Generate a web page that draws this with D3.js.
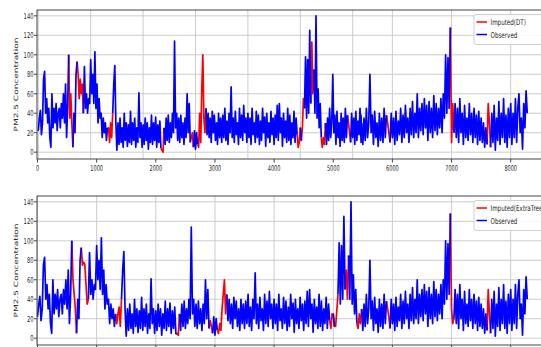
<!DOCTYPE html>
<html><head><meta charset="utf-8">
<script src="https://cdn.jsdelivr.net/npm/d3@7"></script>
<style>
body{margin:0;background:#fff;overflow:hidden}
svg{display:block}
text{font-family:"DejaVu Sans",sans-serif;fill:#262626}
</style></head><body>
<script>
// sampling step of the hourly index (units on the x axis)
const STEP = 20;
// observed PM2.5 values (null = missing), one value every STEP units, 0 .. 8280
const observed = [
 22,35,43,18,30,75,83,40,55,30,45,15,5,60,25,45,30,50,22,40,45,25,50,35,60,
 30,70,15,45,100,null,null,null,5,40,20,80,93,null,null,null,null,null,40,88,45,60,40,55,50,
 95,60,80,50,103,45,70,30,55,35,40,15,35,20,30,12,25,null,null,null,null,40,70,89,30,
 2,30,8,35,10,25,5,40,12,30,6,28,10,42,8,30,12,35,5,25,10,61,15,30,5,
 28,8,35,12,30,3,25,10,38,8,30,12,36,5,28,10,32,4,null,null,25,8,35,12,38,
 10,30,15,40,20,114,25,40,12,35,10,38,15,30,8,35,15,60,20,50,10,null,null,5,22,
 3,20,8,null,null,null,null,null,null,null,45,18,40,15,35,10,42,20,38,12,30,8,40,15,35,
 10,38,15,45,12,32,8,40,20,67,15,35,10,42,18,30,8,45,15,38,12,48,20,35,10,
 40,15,35,8,45,18,30,10,42,15,38,8,32,12,45,20,36,6,40,15,30,10,42,18,35,
 8,38,15,48,12,50,20,35,6,40,15,32,10,45,12,38,8,30,15,42,10,35,18,null,null,
 25,12,null,null,45,98,35,95,40,125,50,null,null,85,40,140,35,65,25,50,15,null,null,null,30,
 8,35,12,45,15,30,80,20,38,8,42,15,30,6,40,12,35,10,45,15,38,null,null,10,40,
 15,35,8,42,12,32,18,45,10,38,15,48,20,35,10,45,18,52,15,40,20,60,15,45,22,
 50,18,55,25,48,12,52,20,45,15,58,22,50,18,45,25,55,20,60,35,100,40,97,45,128,
 null,null,20,50,15,45,10,55,20,40,8,48,15,35,12,50,18,40,10,45,15,38,8,42,12,
 35,10,30,5,25,8,null,null,5,40,10,48,2,35,12,52,8,40,15,55,10,38,5,45,15,
 50,8,40,15,55,10,45,60,20,35,3,50,25,63,40
];
// index (in STEP units) where each missing run begins
const gapStart = [30,38,67,118,146,153,248,252,261,271,296,350,381];
// imputed values for each missing run
const imputedDT = [[35,60,30],[80,55,75,60,70],[25,10,30,15],[2,0],[15,20],[5,40,10,65,100,35,20],[5,10],[25,55],[113,60],[5,15,8],[30,20],[10,50],[50,30]];
const imputedET = [[60,45,30],[75,78,76,55,35],[15,25,32,12],[5,3],[18,12],[5,15,8,30,45,60,25],[10,25],[12,28],[70,40],[10,25,15],[30,22],[30,15],[50,25]];
const yTicks = [0,20,40,60,80,100,120,140];
const xTicks = [0,1000,2000,3000,4000,5000,6000,7000,8000];
const legendNames = ["Imputed(DT)","Imputed(ExtraTrees)"];
const seriesNames = ["Observed"];
const yTitle = "PM2.5 Concentration";

function fillSeries(imp){
  const s = observed.slice();
  gapStart.forEach((g,i)=>imp[i].forEach((v,j)=>{ s[g+j]=v; }));
  return s;
}
function nearGap(i){
  return observed[i]==null || observed[i-1]===null || observed[i+1]===null;
}

const W=541,H=347;
const svg=d3.select("body").append("svg").attr("width",W).attr("height",H);
const defs=svg.append("defs");
const plotL=37, plotR=575;
const xNormal=d3.scaleLinear().domain([0,8000]).range([37.5,510.7]);
const xCompressed=d3.scaleLinear().domain([0,6000]).range([38.3,352.7]);
const splice=362;

const panels=[
 {top:10,bottom:159,imp:imputedDT,name:legendNames[0],xLabels:true,
  pieces:[{x:xCompressed,x0:plotL,x1:splice},{x:xNormal,x0:splice,x1:plotR}]},
 {top:196,bottom:345,imp:imputedET,name:legendNames[1],xLabels:false,
  pieces:[{x:xNormal,x0:plotL,x1:plotR}]}
];

panels.forEach((p,k)=>{
  const y=d3.scaleLinear().domain([-7,146]).range([p.bottom,p.top]);
  const g=svg.append("g");
  yTicks.forEach(t=>g.append("line").attr("x1",plotL).attr("x2",plotR)
    .attr("y1",y(t)).attr("y2",y(t)).attr("stroke","#c6c6c6").attr("stroke-width",0.9));
  const full=fillSeries(p.imp);
  p.pieces.forEach((pc,j)=>{
    const id=`clip${k}_${j}`;
    defs.append("clipPath").attr("id",id).append("rect")
      .attr("x",pc.x0).attr("y",p.top).attr("width",pc.x1-pc.x0).attr("height",p.bottom-p.top);
    const pg=g.append("g").attr("clip-path",`url(#${id})`);
    xTicks.forEach(t=>pg.append("line").attr("x1",pc.x(t)).attr("x2",pc.x(t))
      .attr("y1",p.top).attr("y2",p.bottom).attr("stroke","#c6c6c6").attr("stroke-width",0.9));
    const redLine=d3.line().defined((d,i)=>d!=null && nearGap(i)).x((d,i)=>pc.x(i*STEP)).y(d=>y(d));
    const blueLine=d3.line().defined(d=>d!=null).x((d,i)=>pc.x(i*STEP)).y(d=>y(d));
    pg.append("path").datum(full).attr("d",redLine).attr("fill","none")
      .attr("stroke","#ff0000").attr("stroke-width",1.7).attr("stroke-linejoin","round");
    pg.append("path").datum(observed).attr("d",blueLine).attr("fill","none")
      .attr("stroke","#0000ff").attr("stroke-width",1.7).attr("stroke-linejoin","round");
  });
  g.append("rect").attr("x",plotL).attr("y",p.top).attr("width",plotR-plotL).attr("height",p.bottom-p.top)
    .attr("fill","none").attr("stroke","#444").attr("stroke-width",1);
  yTicks.forEach(t=>{
    g.append("line").attr("x1",plotL-3).attr("x2",plotL).attr("y1",y(t)).attr("y2",y(t)).attr("stroke","#444");
    g.append("text").attr("transform",`translate(33.5,${y(t)+2.9}) scale(0.65,1)`)
      .attr("text-anchor","end").attr("font-size",8).text(t);
  });
  xTicks.forEach(t=>{
    g.append("line").attr("x1",xNormal(t)).attr("x2",xNormal(t)).attr("y1",p.bottom).attr("y2",p.bottom+3.5).attr("stroke","#444");
    if(p.xLabels) g.append("text").attr("transform",`translate(${xNormal(t)},${p.bottom+12}) scale(0.62,1)`)
      .attr("text-anchor","middle").attr("font-size",8).text(t);
  });
  g.append("text").attr("transform",`translate(16.5,${(p.top+p.bottom)/2}) scale(0.65,1) rotate(-90)`)
    .attr("text-anchor","middle").attr("dominant-baseline","central").attr("font-size",9).text(yTitle);
  const lg=g.append("g");
  lg.append("rect").attr("x",474).attr("y",p.top+4.5).attr("width",110).attr("height",30).attr("rx",2)
    .attr("fill","#fff").attr("fill-opacity",0.85).attr("stroke","#d0d0d0");
  [[p.name,"#ff0000",12],[seriesNames[0],"#0000ff",24.5]].forEach(([nm,c,dy])=>{
    lg.append("line").attr("x1",476.5).attr("x2",487).attr("y1",p.top+dy).attr("y2",p.top+dy)
      .attr("stroke",c).attr("stroke-width",1.5);
    lg.append("text").attr("transform",`translate(490.5,${p.top+dy+3}) scale(0.7,1)`)
      .attr("font-size",8).text(nm);
  });
});
</script>
</body></html>
